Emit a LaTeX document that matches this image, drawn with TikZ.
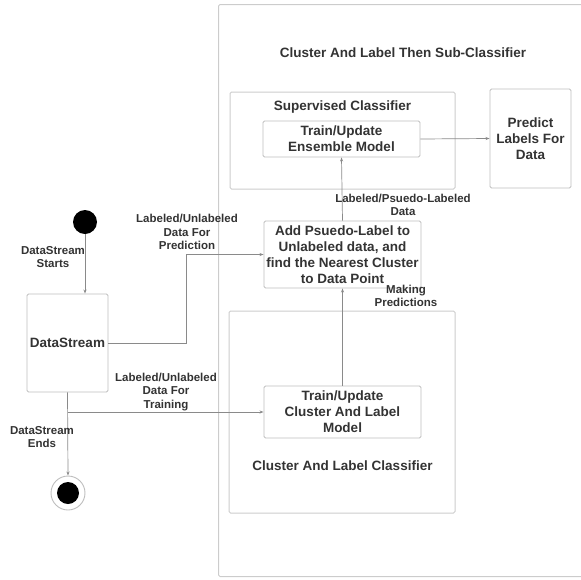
\documentclass[tikz,border=0pt]{standalone}
\usepackage{fontspec}
\setmainfont{Liberation Sans}
\usetikzlibrary{arrows.meta}
\definecolor{txt}{HTML}{333333}
\definecolor{boxc}{HTML}{BDBDBD}
\definecolor{framec}{HTML}{CCCCCC}
\definecolor{linec}{HTML}{8A8A8A}
\tikzset{
  mainbox/.style={draw=boxc, line width=0.9pt, rounded corners=1.5pt, inner sep=0pt, align=center, text=txt,
    font=\fontsize{13.5}{16}\selectfont\bfseries},
  framebox/.style={draw=framec, line width=1pt, rounded corners=1.5pt, inner sep=0pt},
  maintext/.style={text=txt, align=center, font=\fontsize{13.5}{16}\selectfont\bfseries},
  lbl/.style={text=txt, align=center, inner sep=0pt, font=\fontsize{11.5}{13.5}\selectfont\bfseries},
  conn/.style={draw=linec, line width=0.7pt, -{Stealth[length=4pt,width=3pt]}},
  plainconn/.style={draw=linec, line width=0.7pt}
}
\begin{document}
\begin{tikzpicture}[x=1pt,y=-1pt]
\useasboundingbox (0,0) rectangle (581,579);
% outer frame
\node[framebox, minimum width=372pt, minimum height=572pt, anchor=north west] (outer) at (218,4) {};
\node[maintext] (title) at (403,53) {Cluster And Label Then Sub-Classifier};
% supervised classifier frame
\node[framebox, minimum width=225pt, minimum height=97pt] (sup) at (342.5,140.5) {};
\node[maintext] (suplbl) at (342.5,107) {Supervised Classifier};
\node[mainbox, minimum width=157pt, minimum height=36pt] (ens) at (341.5,139) {Train/Update\\Ensemble Model};
\node[mainbox, minimum width=81pt, minimum height=99pt] (pred) at (530.5,138.5) {Predict\\Labels For\\Data};
\node[mainbox, minimum width=157pt, minimum height=67pt] (add) at (342.5,254.5) {Add Psuedo-Label to\\Unlabeled data, and\\find the Nearest Cluster\\to Data Point};
% cluster and label classifier frame
\node[framebox, minimum width=226pt, minimum height=202pt] (clc) at (342,412) {};
\node[maintext] (clclbl) at (342.5,466) {Cluster And Label Classifier};
\node[mainbox, minimum width=157pt, minimum height=52pt] (tcl) at (342.5,412) {Train/Update\\Cluster And Label\\Model};
% datastream
\node[circle, fill=black, minimum size=24pt, inner sep=0pt] (start) at (85,222) {};
\node[mainbox, minimum width=81pt, minimum height=98pt] (ds) at (67.5,343) {DataStream};
\node[circle, draw=boxc, line width=0.9pt, fill=white, minimum size=34pt, inner sep=0pt] (end) at (68,493) {};
\node[circle, fill=black, minimum size=22pt, inner sep=0pt] (endin) at (end.center) {};
% connectors
\coordinate (br) at (ds.south |- tcl.west);
\coordinate (up) at (186,343);
\draw[conn] (start.south) -- (start.south |- ds.north);
\draw[conn] (ds.east) -- (up) |- (add.west);
\draw[conn] (ds.south) -- (end.north);
\draw[conn] (br) -- (tcl.west);
\draw[conn] (tcl.north) -- (add.south);
\draw[conn] (add.north) -- (ens.south);
\draw[conn] (ens.east) -- (pred.west);
% labels
\node[lbl] (l1) at (53,257) {DataStream\\Starts};
\node[lbl] (l2) at (187,232) {Labeled/Unlabeled\\Data For\\Prediction};
\node[lbl] (l3) at (166,392) {Labeled/Unlabeled\\Data For\\Training};
\node[lbl] (l4) at (42,437) {DataStream\\Ends};
\node[lbl] (l5) at (406,296) {Making\\Predictions};
\node[lbl] (l6) at (403,205) {Labeled/Psuedo-Labeled\\Data};
\end{tikzpicture}
\end{document}
